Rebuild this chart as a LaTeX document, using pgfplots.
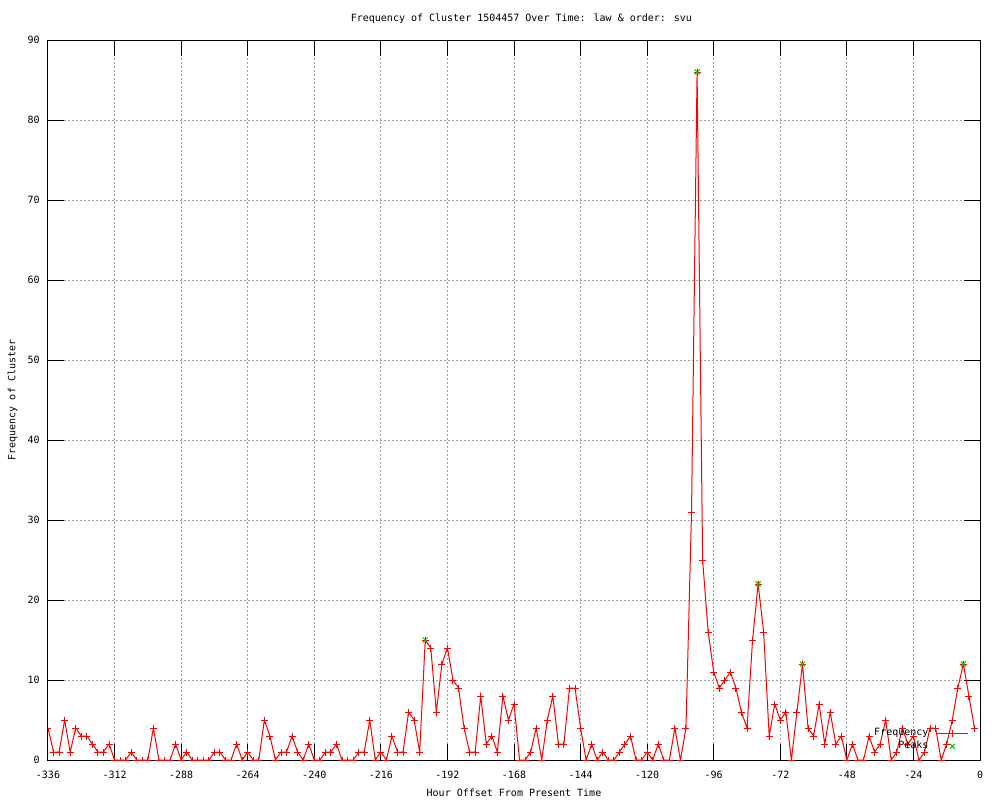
\documentclass[border=0pt]{standalone}
\usepackage{fontspec}
\setmainfont{DejaVu Sans Mono}
\usepackage{pgfplots}
\usepackage{pgfplotstable}
\pgfplotsset{compat=1.18}
\definecolor{gpred}{RGB}{255,0,0}
\definecolor{gpgreen}{RGB}{0,192,0}
\definecolor{gpgrid}{RGB}{160,160,160}

\pgfplotsset{
  freqlegend/.style={legend image code/.code={\draw[mark repeat=2,mark phase=2,##1] plot coordinates {(0pt,0pt) (7.75pt,0pt) (15.5pt,0pt)};}},
  peaklegend/.style={legend image code/.code={\path (0pt,0pt) (15.5pt,0pt); \draw[##1, only marks] plot coordinates {(7.75pt,0pt)};}},
}

\pgfplotstableread{
h f
-336 4
-334 1
-332 1
-330 5
-328 1
-326 4
-324 3
-322 3
-320 2
-318 1
-316 1
-314 2
-312 0
-310 0
-308 0
-306 1
-304 0
-302 0
-300 0
-298 4
-296 0
-294 0
-292 0
-290 2
-288 0
-286 1
-284 0
-282 0
-280 0
-278 0
-276 1
-274 1
-272 0
-270 0
-268 2
-266 0
-264 1
-262 0
-260 0
-258 5
-256 3
-254 0
-252 1
-250 1
-248 3
-246 1
-244 0
-242 2
-240 0
-238 0
-236 1
-234 1
-232 2
-230 0
-228 0
-226 0
-224 1
-222 1
-220 5
-218 0
-216 1
-214 0
-212 3
-210 1
-208 1
-206 6
-204 5
-202 1
-200 15
-198 14
-196 6
-194 12
-192 14
-190 10
-188 9
-186 4
-184 1
-182 1
-180 8
-178 2
-176 3
-174 1
-172 8
-170 5
-168 7
-166 0
-164 0
-162 1
-160 4
-158 0
-156 5
-154 8
-152 2
-150 2
-148 9
-146 9
-144 4
-142 0
-140 2
-138 0
-136 1
-134 0
-132 0
-130 1
-128 2
-126 3
-124 0
-122 0
-120 1
-118 0
-116 2
-114 0
-112 0
-110 4
-108 0
-106 4
-104 31
-102 86
-100 25
-98 16
-96 11
-94 9
-92 10
-90 11
-88 9
-86 6
-84 4
-82 15
-80 22
-78 16
-76 3
-74 7
-72 5
-70 6
-68 0
-66 6
-64 12
-62 4
-60 3
-58 7
-56 2
-54 6
-52 2
-50 3
-48 0
-46 2
-44 0
-42 0
-40 3
-38 1
-36 2
-34 5
-32 0
-30 1
-28 4
-26 2
-24 3
-22 0
-20 1
-18 4
-16 4
-14 0
-12 2
-10 5
-8 9
-6 12
-4 8
-2 4
}\freqdata

\pgfplotstableread{
h f
-200 15
-102 86
-80 22
-64 12
-6 12
}\peakdata

\begin{document}
\begin{tikzpicture}[font=\fontsize{5}{6}\selectfont]
\useasboundingbox (0,0) rectangle (500pt,400pt);
\begin{axis}[
  at={(24pt,20pt)}, anchor=south west,
  scale only axis, width=466pt, height=360pt,
  xmin=-336, xmax=0, ymin=0, ymax=90,
  xtick={-336,-312,...,0}, ytick={0,10,...,90},
  tick pos=both, tick align=inside, major tick length=8pt,
  tick style={black, line width=0.5pt},
  axis line style={black, line width=0.5pt},
  grid=major,
  major grid style={gpgrid, line width=0.5pt, dash pattern=on 1pt off 1pt},
  /pgf/number format/assume math mode=true,
  ticklabel style={inner sep=0pt},
  xticklabel style={yshift=-5.3pt},
  yticklabel style={xshift=-4pt},
  title={Frequency of Cluster 1504457 Over Time: law \& order: svu},
  title style={at={(axis description cs:0.508,1.0306)}, anchor=center, yshift=-6.5pt, inner sep=0pt},
  xlabel={Hour Offset From Present Time},
  xlabel style={at={(axis description cs:0.5,-0.0458)}, anchor=center, yshift=0pt, inner sep=0pt},
  ylabel={Frequency of Cluster},
  ylabel style={at={(axis description cs:-0.0381,0.5)}, anchor=center, inner sep=0pt},
  clip marker paths=true,
  legend plot pos=right,
  legend cell align=right,
  legend style={at={(axis description cs:0.988,0.044)}, anchor=north east,
    draw=none, fill=none, inner sep=0pt, column sep=4pt, row sep=1.9pt,
    nodes={inner sep=0pt, text height=3.6pt, text depth=1pt},
    font=\fontsize{5}{6}\selectfont},
]
\addplot[gpred, line width=0.5pt, mark=+, mark size=1.75pt,
  mark options={solid, line width=0.5pt}, freqlegend
] table[x=h, y=f] {\freqdata};
\addlegendentry{Frequency}
\addplot[gpgreen, only marks, mark=x, mark size=1.75pt,
  mark options={solid, line width=0.5pt}, peaklegend
] table[x=h, y=f] {\peakdata};
\addlegendentry{Peaks}
\end{axis}
\end{tikzpicture}
\end{document}
